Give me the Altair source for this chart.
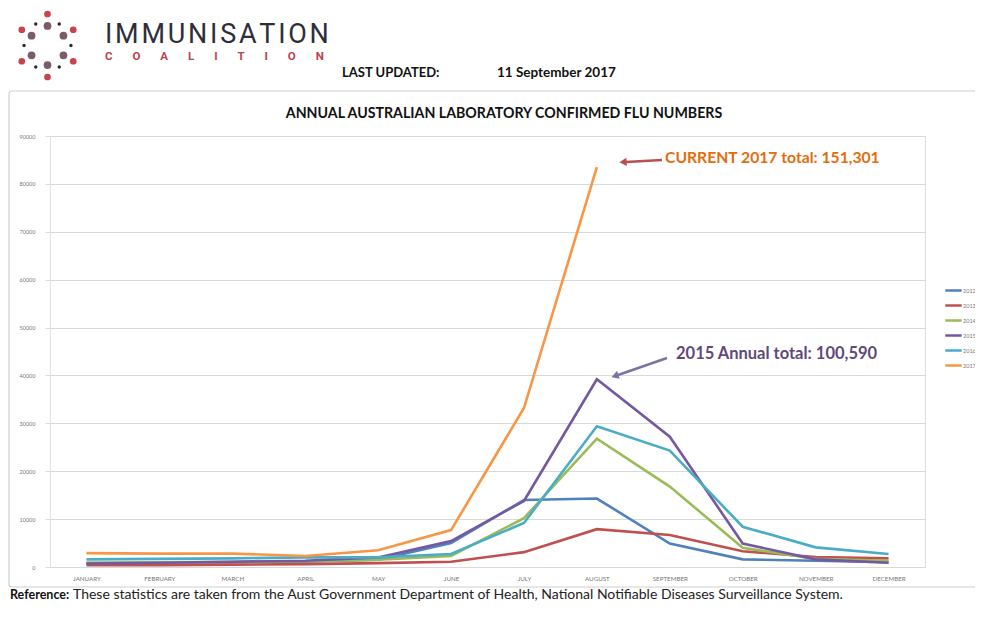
import math
import altair as alt
import pandas as pd

months = ["JANUARY", "FEBRUARY", "MARCH", "APRIL", "MAY", "JUNE", "JULY",
          "AUGUST", "SEPTEMBER", "OCTOBER", "NOVEMBER", "DECEMBER"]
years = ["2012", "2013", "2014", "2015", "2016", "2017"]
v2012 = [800, 900, 1000, 1100, 1500, 5000, 14000, 14300, 4900, 1600, 1300, 1000]
v2013 = [400, 400, 500, 600, 800, 1100, 3100, 7900, 6700, 3300, 2100, 1800]
v2014 = [900, 1000, 1100, 1200, 1500, 2300, 10200, 26800, 16800, 4000, 1700, 1300]
v2015 = [700, 900, 1100, 1300, 2000, 5400, 13800, 39200, 27200, 4900, 1600, 900]
v2016 = [1600, 1700, 1800, 2000, 2000, 2700, 9200, 29400, 24300, 8400, 4100, 2700]
v2017 = [2900, 2800, 2800, 2300, 3500, 7700, 33200, 83500]
series = [v2012, v2013, v2014, v2015, v2016, v2017]
colors = ["#4F81BD", "#C0504D", "#9BBB59", "#7559A0", "#4BACC6", "#F79646"]
y_ticks = [0, 10000, 20000, 30000, 40000, 50000, 60000, 70000, 80000, 90000]

rows = []
for yr, vals in zip(years, series):
    for m, v in zip(months, vals):
        rows.append({"month": m, "year": yr, "cases": v})
df = pd.DataFrame(rows)

# logo: rings of dots on a hexagon
logo_rows = []
for a in [90, 30, -30, -90, -150, 150]:
    logo_rows.append({"lx": math.cos(math.radians(a)), "ly": math.sin(math.radians(a)), "c": "#C9434C", "s": 45})
    logo_rows.append({"lx": 0.62 * math.cos(math.radians(a)), "ly": 0.62 * math.sin(math.radians(a)), "c": "#7A5B6C", "s": 60})
for a in [0, 60, 120, 180, 240, 300]:
    logo_rows.append({"lx": 0.79 * math.cos(math.radians(a)), "ly": 0.79 * math.sin(math.radians(a)), "c": "#2b2b2b", "s": 12})
logo_df = pd.DataFrame(logo_rows)

W, H = 875, 431
FONT = "Lato"

lines = alt.Chart(df).mark_line(strokeWidth=2.6).encode(
    x=alt.X("month:N", sort=months, scale=alt.Scale(padding=0.5),
            axis=alt.Axis(title=None, ticks=False, domain=False, labelAngle=0,
                          labelFontSize=6.2, labelColor="#777777", labelPadding=8,
                          labelFont=FONT, grid=False)),
    y=alt.Y("cases:Q", scale=alt.Scale(domain=[0, 90000], nice=False),
            axis=alt.Axis(title=None, values=y_ticks, format="d", labelFontSize=5.5,
                          labelColor="#777777", labelFont=FONT, tickSize=5, tickColor="#d9d9d9",
                          labelPadding=10, domainColor="#e0e0e0", gridColor="#d9d9d9",
                          gridWidth=1.2)),
    color=alt.Color("year:N", scale=alt.Scale(domain=years, range=colors),
                    legend=alt.Legend(title=None, orient="none", legendX=894, legendY=145,
                                      symbolType="stroke", symbolSize=270, symbolStrokeWidth=2.5,
                                      labelFontSize=5.5, labelColor="#777777", rowPadding=0,
                                      labelFont=FONT, labelOffset=0)),
    order=alt.Order("year:N"),
)

logo = alt.Chart(logo_df).mark_circle(opacity=1).encode(
    x=alt.X("lx:Q", scale=alt.Scale(domain=[-1, 1], range=[-32.2, 27.2]), axis=None),
    y=alt.Y("ly:Q", scale=alt.Scale(domain=[-1, 1], range=[-59, -122]), axis=None),
    color=alt.Color("c:N", scale=None),
    size=alt.Size("s:Q", scale=None),
)

def txt(text, x, y, size, color="#222222", weight="normal", align="left", font=FONT):
    return alt.Chart(pd.DataFrame({"t": [text]})).mark_text(
        align=align, baseline="middle", fontSize=size, fontWeight=weight, color=color, font=font
    ).encode(text="t:N", x=alt.value(x), y=alt.value(y))

sp = "\u2003\u2002\u2009"
texts = [
    txt("\u200a".join(list("IMMUNISATION")), 55, -101, 27, "#2E2E38", "normal", font="Roboto"),
    txt(sp.join(list("COALITION")), 55, -79, 11.5, "#B8444D", "bold", font="Roboto"),
    txt("LAST UPDATED:", 292, -63, 13, "#111111", "bold"),
    txt("11 September 2017", 447, -63, 13.5, "#111111", "bold"),
    txt("ANNUAL AUSTRALIAN LABORATORY CONFIRMED FLU NUMBERS", 454, -22, 14.2, "#111111", "bold", "center"),
    txt("CURRENT 2017 total: 151,301", 615, 22, 15.7, "#E46C0A", "bold"),
    txt("2015 Annual total: 100,590", 626, 218, 16.5, "#5F497A", "bold"),
    txt("Reference:", -40, 459, 12.5, "#111111", "bold"),
    txt("These statistics are taken from the Aust Government Department of Health, National Notifiable Diseases Surveillance System.", 23, 459, 14, "#222222"),
]

def rule(x1, y1, x2, y2, color, w=2.5):
    return alt.Chart(pd.DataFrame({"a": [0]})).mark_rule(color=color, strokeWidth=w).encode(
        x=alt.value(x1), x2=alt.value(x2), y=alt.value(y1), y2=alt.value(y2))

def head(x, y, angle, color):
    return alt.Chart(pd.DataFrame({"a": [0]})).mark_point(
        shape="triangle-left", filled=True, size=70, angle=angle, color=color, opacity=1
    ).encode(x=alt.value(x), y=alt.value(y))

arrows = [
    rule(612, 24, 576, 26, "#B8504E"),
    head(573, 26, 357, "#B8504E"),
    rule(617, 222, 568, 239, "#7A74A0"),
    head(565, 240, 341, "#7A74A0"),
]

box = alt.Chart(pd.DataFrame({"a": [0]})).mark_rect(
    fill="transparent", stroke="#cfcfcf", strokeWidth=1.2, cornerRadius=3
).encode(x=alt.value(-41), x2=alt.value(940), y=alt.value(-45), y2=alt.value(451))

chart = alt.layer(box, lines, logo, *texts, *arrows).resolve_scale(
    x="independent", y="independent", color="independent", size="independent"
).properties(
    width=W, height=H,
    autosize=alt.AutoSizeParams(type="none"),
    padding={"left": 42, "top": 128, "right": 50, "bottom": 37},
).configure_view(stroke=None).configure(background="white")

chart.save("out.html", embed_options={"renderer": "svg", "actions": False})
